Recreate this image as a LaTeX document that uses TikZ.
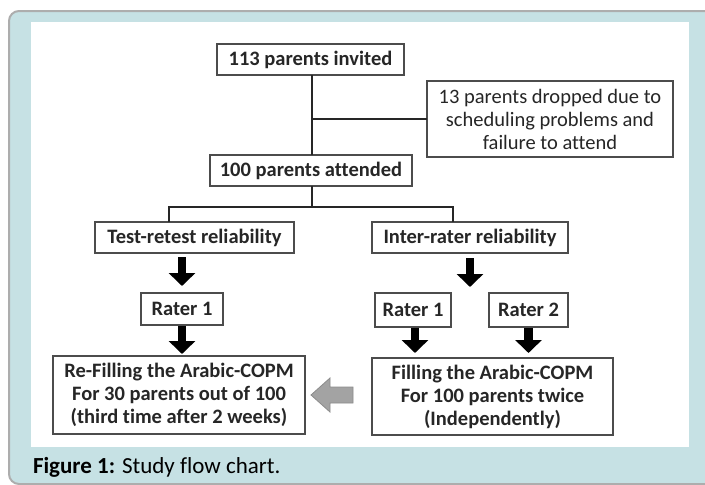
\documentclass[tikz,border=0pt]{standalone}
\usepackage{fontspec}
\setmainfont{Carlito}[Ligatures=NoCommon]
\usetikzlibrary{arrows.meta}
\definecolor{panelc}{HTML}{C6E1E4}
\definecolor{rimc}{HTML}{ADADAD}
\definecolor{garrc}{HTML}{A3A3A3}
\begin{document}
\begin{tikzpicture}[x=1pt, y=-1pt]
\tikzset{ >={Triangle[width=26pt,length=13pt]}, inner sep=0pt, outer sep=0pt,
  box/.style={draw=black!70, line width=1.2pt, fill=white, align=center, text=black!85,
    font=\fontsize{20.5}{23}\selectfont\bfseries},
  note/.style={box, font=\fontsize{20.5}{23}\selectfont},
  link/.style={black!85, line width=2.4pt},
  blk/.style={->, black, line width=8.5pt},
}
\useasboundingbox (0,0) rectangle (705,485);
%\draw [lightgray, dashed](0,0) grid[step=50] (705,485);

% panel
\filldraw [fill=panelc, draw=rimc, line width=2pt, rounded corners=10pt] (9,484) rectangle (725,11);
\fill [white] (31,22) rectangle (689,447);

\node [box, minimum width=187, minimum height=31] (inv)    at (310.5,59.5) {113 parents invited};
\node [note, minimum width=246, minimum height=76] (drop)  at (550,119)    {13 parents dropped due to\\scheduling problems and\\failure to attend};
\node [box, minimum width=202, minimum height=31] (att)    at (311,170.5)  {100 parents attended};

\node [box, minimum width=199, minimum height=31] (test)   at (194.5,237.5) {Test-retest reliability};
\node [box, minimum width=196, minimum height=31] (inter)  at (470,237.5)   {Inter-rater reliability};

\node [box, minimum width=82, minimum height=32] (rL)      at (182,309)   {Rater 1};
\node [box, minimum width=76, minimum height=34] (rA)      at (413,310)   {Rater 1};
\node [box, minimum width=79, minimum height=34] (rB)      at (528.5,310) {Rater 2};

\node [box, minimum width=252, minimum height=78] (refill) at (179,395)   {Re-Filling the Arabic-COPM\\For 30 parents out of 100\\(third time after 2 weeks)};
\node [box, minimum width=241, minimum height=77] (fill)   at (492.5,396.5) {Filling the Arabic-COPM\\For 100 parents twice\\(Independently)};

% lines
\draw [link] (inv.south -| 312,0) -- (att.north -| 312,0);
\draw [link] (drop.west -| 312,0) -- (drop.west);
\draw [link] (att.south -| 312,0) -- (312,207) coordinate (J);
\draw [link] ([xshift=-25.5pt]test.north) |- (J) -| ([xshift=-17pt]inter.north);

% block arrows
\draw [blk, shorten <=4pt, shorten >=7pt] (rL.north |- test.south) -- (rL.north);
\draw [blk, shorten <=5pt, shorten >=6pt] (inter.south) -- (inter.south |- rA.north);
\draw [blk, shorten <=1pt, shorten >=2pt] (rL.south) -- (rL.south |- refill.north);
\draw [blk, shorten <=1pt, shorten >=5pt] ([xshift=2pt]rA.south) -- ([xshift=2pt]rA.south |- fill.north);
\draw [blk, shorten <=1pt, shorten >=5pt] (rB.south) -- (rB.south |- fill.north);

% grey arrow
\filldraw [fill=garrc, draw=black!45, line width=0.8pt]
  (353,387) -- (330,387) -- (330,378) -- (311,395) -- (330,412) -- (330,403) -- (353,403) -- cycle;

\node [anchor=base west, font=\fontsize{23}{27}\selectfont] (cap) at (33,473) {\textbf{Figure 1:} Study flow chart.};

\end{tikzpicture}
\end{document}
